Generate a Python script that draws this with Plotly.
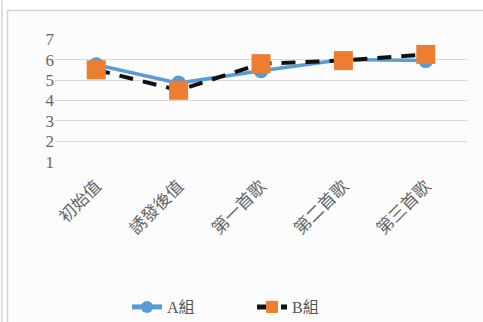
import plotly.graph_objects as go

# Survey scores per stage for two groups
categories = ["初始值", "誘發後值", "第一首歌", "第二首歌", "第三首歌"]
group_a = [5.75, 4.85, 5.45, 6.0, 5.95]
group_b = [5.5, 4.5, 5.8, 5.95, 6.25]
y_ticks = [1, 2, 3, 4, 5, 6, 7]

W, H = 483, 322
L, R, T, B = 55, 16, 39, 160
pw, ph = W - L - R, H - T - B


def px_x(x):
    return (x - L) / pw


def px_y(y):
    return (H - B - y) / ph


font_family = "Liberation Serif, Noto Sans CJK TC, serif"

fig = go.Figure()
fig.add_trace(go.Scatter(
    x=categories, y=group_a, name="A組", mode="lines+markers",
    line=dict(color="#5b9bd5", width=3.5),
    marker=dict(symbol="circle", size=15, color="#5b9bd5"),
))
fig.add_trace(go.Scatter(
    x=categories, y=group_b, name="B組", mode="lines+markers",
    line=dict(color="#111111", width=4, dash="14px,10px"),
    marker=dict(symbol="square", size=19, color="#ed7d31"),
))

# chart frame
fig.add_shape(type="rect", xref="paper", yref="paper",
              x0=px_x(7.5), x1=px_x(495), y0=px_y(10.5), y1=px_y(340),
              line=dict(color="#d4d4d4", width=1.5), fillcolor="#fcfcfc",
              layer="below")
fig.add_shape(type="line", xref="paper", yref="paper",
              x0=px_x(2), x1=px_x(2), y0=px_y(0), y1=px_y(340),
              line=dict(color="#d4d4d4", width=1.5), layer="below")

fig.update_layout(
    width=W, height=H,
    margin=dict(l=L, r=R, t=T, b=B, autoexpand=False),
    paper_bgcolor="white", plot_bgcolor="rgba(0,0,0,0)",
    font=dict(family=font_family, color="#666666"),
    showlegend=True,
    legend=dict(orientation="h", x=px_x(252), xanchor="center",
                y=px_y(307), yanchor="middle",
                font=dict(size=16, color="#555555"),
                bgcolor="rgba(0,0,0,0)", itemsizing="constant",
                entrywidth=80),
)
fig.update_xaxes(
    type="category", range=[-0.5, 4.5], showgrid=False, showline=False,
    tickangle=-45, tickfont=dict(size=17, color="#666666"), ticks="",
    automargin=False, ticklabelstandoff=10,
)
fig.update_yaxes(
    range=[0.995, 7.005], tickvals=y_ticks, showgrid=True,
    gridcolor="#d9d9d9", gridwidth=1, zeroline=False, showline=False,
    tickfont=dict(size=17, color="#666666"), ticks="", automargin=False,
)

fig.write_html("out.html")
